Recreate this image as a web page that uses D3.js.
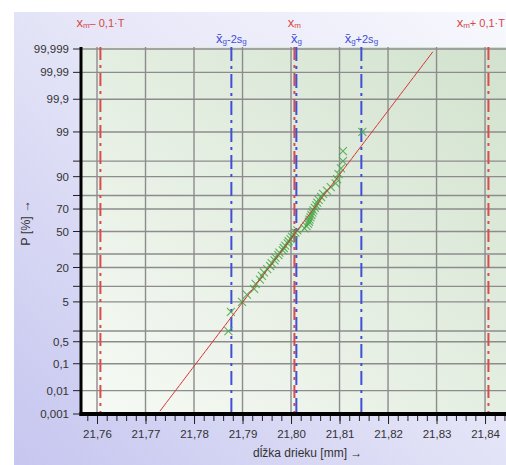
<!DOCTYPE html>
<html>
<head>
<meta charset="utf-8">
<script src="https://cdn.jsdelivr.net/npm/d3@7"></script>
<style>
  html, body { margin: 0; padding: 0; background: #fff; }
  svg { display: block; font-family: "Liberation Sans", Arial, sans-serif; }
</style>
</head>
<body>
<svg id="chart" width="506" height="465"></svg>
<script>
// Measured shaft lengths [mm], sorted (n = 50)
const measurements = [
  21.7871, 21.7876, 21.7899, 21.7909, 21.7924, 21.7927, 21.7936, 21.7940, 21.7944, 21.7951,
  21.7957, 21.7960, 21.7966, 21.7968, 21.7974, 21.7976, 21.7983, 21.7985, 21.7988, 21.7993,
  21.7995, 21.7999, 21.8002, 21.8005, 21.8009, 21.8013, 21.8028, 21.8032, 21.8035, 21.8037,
  21.8038, 21.8040, 21.8042, 21.8044, 21.8046, 21.8049, 21.8052, 21.8054, 21.8057, 21.8062,
  21.8066, 21.8074, 21.8082, 21.8092, 21.8095, 21.8098, 21.8103, 21.8107, 21.8107, 21.8147
];

// Statistics and tolerance
const xMean = 21.8011;   // x̄g
const sG = 0.0067;       // sg
const xMid = 21.8007;    // xm
const tolT = 0.4;        // T

// Axis ticks
const xMajorTicks = [21.76, 21.77, 21.78, 21.79, 21.80, 21.81, 21.82, 21.83, 21.84];
const xMajorLabels = ["21,76", "21,77", "21,78", "21,79", "21,80", "21,81", "21,82", "21,83", "21,84"];
const yGridP = [99.999, 99.99, 99.9, 99, 95, 90, 80, 70, 50, 30, 20, 10, 5, 1, 0.5, 0.1, 0.01, 0.001];
const yLabelP = [99.999, 99.99, 99.9, 99, 90, 70, 50, 20, 5, 0.5, 0.1, 0.01, 0.001];
const yLabelText = ["99,999", "99,99", "99,9", "99", "90", "70", "50", "20", "5", "0,5", "0,1", "0,01", "0,001"];

// Inverse standard normal CDF (Acklam's rational approximation)
function probit(p) {
  const a = [-3.969683028665376e+01, 2.209460984245205e+02, -2.759285104469687e+02, 1.383577518672690e+02, -3.066479806614716e+01, 2.506628277459239e+00];
  const b = [-5.447609879822406e+01, 1.615858368580409e+02, -1.556989798598866e+02, 6.680131188771972e+01, -1.328068155288572e+01];
  const c = [-7.784894002430293e-03, -3.223964580411365e-01, -2.400758277161838e+00, -2.549671348133375e+00, 4.374664141464968e+00, 2.938163982698783e+00];
  const d = [7.784695709041462e-03, 3.224671290700398e-01, 2.445134137142996e+00, 3.754408661907416e+00];
  const pl = 0.02425, ph = 1 - pl;
  let q, r;
  if (p < pl) {
    q = Math.sqrt(-2 * Math.log(p));
    return (((((c[0]*q+c[1])*q+c[2])*q+c[3])*q+c[4])*q+c[5]) / ((((d[0]*q+d[1])*q+d[2])*q+d[3])*q+1);
  }
  if (p > ph) {
    q = Math.sqrt(-2 * Math.log(1 - p));
    return -(((((c[0]*q+c[1])*q+c[2])*q+c[3])*q+c[4])*q+c[5]) / ((((d[0]*q+d[1])*q+d[2])*q+d[3])*q+1);
  }
  q = p - 0.5; r = q * q;
  return (((((a[0]*r+a[1])*r+a[2])*r+a[3])*r+a[4])*r+a[5])*q / (((((b[0]*r+b[1])*r+b[2])*r+b[3])*r+b[4])*r+1);
}

const svg = d3.select("#chart");
const W = 506, H = 465;
const plot = { left: 81, top: 47, right: 506, bottom: 414 };

const x = d3.scaleLinear().domain([21.7567, 21.8490]).range([81, 528.7]);
const zTop = probit(0.99999), zBot = probit(0.00001);
const yz = d3.scaleLinear().domain([zBot, zTop]).range([414, 49]);
const yP = p => yz(probit(p / 100));

// Gradients
const defs = svg.append("defs");
const gOuter = defs.append("linearGradient").attr("id", "bgOuter")
  .attr("x1", 0).attr("y1", 1).attr("x2", 1).attr("y2", 0);
gOuter.append("stop").attr("offset", "0%").attr("stop-color", "#c6c6f0");
gOuter.append("stop").attr("offset", "55%").attr("stop-color", "#e6e6f8");
gOuter.append("stop").attr("offset", "100%").attr("stop-color", "#f8f8fe");
const gPlot = defs.append("linearGradient").attr("id", "bgPlot")
  .attr("x1", 0).attr("y1", 1).attr("x2", 1).attr("y2", 0);
gPlot.append("stop").attr("offset", "0%").attr("stop-color", "#f7faf5");
gPlot.append("stop").attr("offset", "100%").attr("stop-color", "#d2e2ce");
defs.append("clipPath").attr("id", "plotClip").append("rect")
  .attr("x", plot.left).attr("y", plot.top)
  .attr("width", plot.right - plot.left).attr("height", plot.bottom - plot.top);

svg.append("rect").attr("width", W).attr("height", H).attr("fill", "#ffffff");
svg.append("rect").attr("x", 14).attr("y", 12).attr("width", W - 14).attr("height", H - 12)
  .attr("fill", "url(#bgOuter)");
svg.append("rect").attr("x", plot.left).attr("y", plot.top)
  .attr("width", plot.right - plot.left).attr("height", plot.bottom - plot.top)
  .attr("fill", "url(#bgPlot)");

const inner = svg.append("g").attr("clip-path", "url(#plotClip)");

// Grid
inner.append("g").selectAll("line").data(yGridP).join("line")
  .attr("x1", plot.left).attr("x2", plot.right)
  .attr("y1", d => yP(d)).attr("y2", d => yP(d))
  .attr("stroke", "#8c8c8c").attr("stroke-width", 1.4);
inner.append("g").selectAll("line").data(xMajorTicks).join("line")
  .attr("x1", d => x(d)).attr("x2", d => x(d))
  .attr("y1", plot.top).attr("y2", plot.bottom)
  .attr("stroke", "#8c8c8c").attr("stroke-width", 1.4);

// Reference lines
const refLines = [
  { v: xMid - 0.1 * tolT, color: "#dd4a4a", dash: "13,5,3,5" },
  { v: xMean - 2 * sG, color: "#3f4fd6", dash: "14,5,3,5" },
  { v: xMid, color: "#dd4a4a", dash: "13,5,3,5" },
  { v: xMean, color: "#3f4fd6", dash: "14,5,3,5" },
  { v: xMean + 2 * sG, color: "#3f4fd6", dash: "14,5,3,5" },
  { v: xMid + 0.1 * tolT, color: "#dd4a4a", dash: "13,5,3,5" }
];
inner.append("g").selectAll("line").data(refLines).join("line")
  .attr("x1", d => x(d.v)).attr("x2", d => x(d.v))
  .attr("y1", plot.top).attr("y2", plot.bottom)
  .attr("stroke", d => d.color).attr("stroke-width", 2)
  .attr("stroke-dasharray", d => d.dash);

// Data points at plotting positions (i - 0.5) / n
const n = measurements.length;
const pts = measurements.map((v, i) => ({ v, p: (i + 0.5) / n }));
const ms = 4;
inner.append("g").selectAll("path").data(pts).join("path")
  .attr("d", d => {
    const cx = x(d.v), cy = yz(probit(d.p));
    return `M${cx - ms},${cy - ms}L${cx + ms},${cy + ms}M${cx - ms},${cy + ms}L${cx + ms},${cy - ms}`;
  })
  .attr("stroke", "#45a545").attr("stroke-width", 1.1).attr("fill", "none").attr("opacity", 0.85);

// Fitted normal line
const zSteps = d3.range(-4.2, 4.2001, 0.1);
inner.append("path").datum(zSteps)
  .attr("d", d3.line().x(z => x(xMean + z * sG)).y(z => yz(z)))
  .attr("fill", "none").attr("stroke", "#d63434").attr("stroke-width", 1);

// Y axis
const yAxisG = svg.append("g");
yAxisG.selectAll("line").data(yGridP).join("line")
  .attr("x1", 73).attr("x2", plot.left).attr("y1", d => yP(d)).attr("y2", d => yP(d))
  .attr("stroke", "#222").attr("stroke-width", 1);
yAxisG.selectAll("text").data(yLabelP).join("text")
  .attr("x", 69).attr("y", d => yP(d)).attr("dy", "0.36em")
  .attr("text-anchor", "end").attr("font-size", 11.5).attr("fill", "#333")
  .text((d, i) => yLabelText[i]);
svg.append("line").attr("x1", plot.left).attr("x2", plot.left)
  .attr("y1", plot.top).attr("y2", plot.bottom + 2)
  .attr("stroke", "#000").attr("stroke-width", 3);

// X axis
const xAxis = d3.axisBottom(x).tickValues(xMajorTicks).tickSize(9).tickPadding(6)
  .tickFormat((d, i) => xMajorLabels[i]);
const xMinor = d3.axisBottom(x).tickValues(d3.range(21.758, 21.849, 0.002)).tickSize(6).tickFormat("");
svg.append("g").attr("transform", `translate(0,${plot.bottom + 1})`).call(xMinor)
  .call(g => g.select(".domain").remove())
  .call(g => g.selectAll("line").attr("stroke", "#222"));
svg.append("g").attr("transform", `translate(0,${plot.bottom + 1})`).call(xAxis)
  .call(g => g.select(".domain").remove())
  .call(g => g.selectAll("line").attr("stroke", "#222"))
  .call(g => g.selectAll("text").attr("font-size", 11.5).attr("fill", "#333")
    .attr("font-family", "Liberation Sans, Arial, sans-serif"));
svg.append("line").attr("x1", plot.left - 1.5).attr("x2", W)
  .attr("y1", plot.bottom).attr("y2", plot.bottom)
  .attr("stroke", "#000").attr("stroke-width", 4);

// Axis titles
svg.append("text").attr("x", 253).attr("y", 457).attr("font-size", 12).attr("fill", "#333")
  .text("dĺžka drieku [mm] →");
svg.append("text").attr("transform", "translate(30,223) rotate(-90)")
  .attr("text-anchor", "middle").attr("font-size", 12.5).attr("fill", "#333")
  .text("P [%] →");

// Reference line captions
function caption(xc, yb, color, parts, anchor) {
  const t = svg.append("text").attr("x", xc).attr("y", yb).attr("text-anchor", anchor || "middle")
    .attr("fill", color).attr("font-size", 11);
  parts.forEach(p => {
    const s = t.append("tspan").text(p.t);
    if (p.sub) s.attr("font-size", 8).attr("dy", 1);
    if (p.up) s.attr("dy", -1);
    if (p.big) s.attr("font-size", 13);
  });
}
const red = "#d84646", blue = "#3f4fd6";
caption(x(xMid - 0.1 * tolT), 27, red, [{ t: "x", big: true }, { t: "m", sub: true }, { t: "– 0,1·T", up: true }]);
caption(x(xMid), 27, red, [{ t: "x", big: true }, { t: "m", sub: true }]);
caption(W - 1, 27, red, [{ t: "x", big: true }, { t: "m", sub: true }, { t: "+ 0,1·T", up: true }], "end");
caption(x(xMean - 2 * sG), 43, blue, [{ t: "x\u0304", big: true }, { t: "g", sub: true }, { t: "-2s", up: true }, { t: "g", sub: true }]);
caption(x(xMean), 43, blue, [{ t: "x\u0304", big: true }, { t: "g", sub: true }]);
caption(x(xMean + 2 * sG), 43, blue, [{ t: "x\u0304", big: true }, { t: "g", sub: true }, { t: "+2s", up: true }, { t: "g", sub: true }]);
</script>
</body>
</html>
